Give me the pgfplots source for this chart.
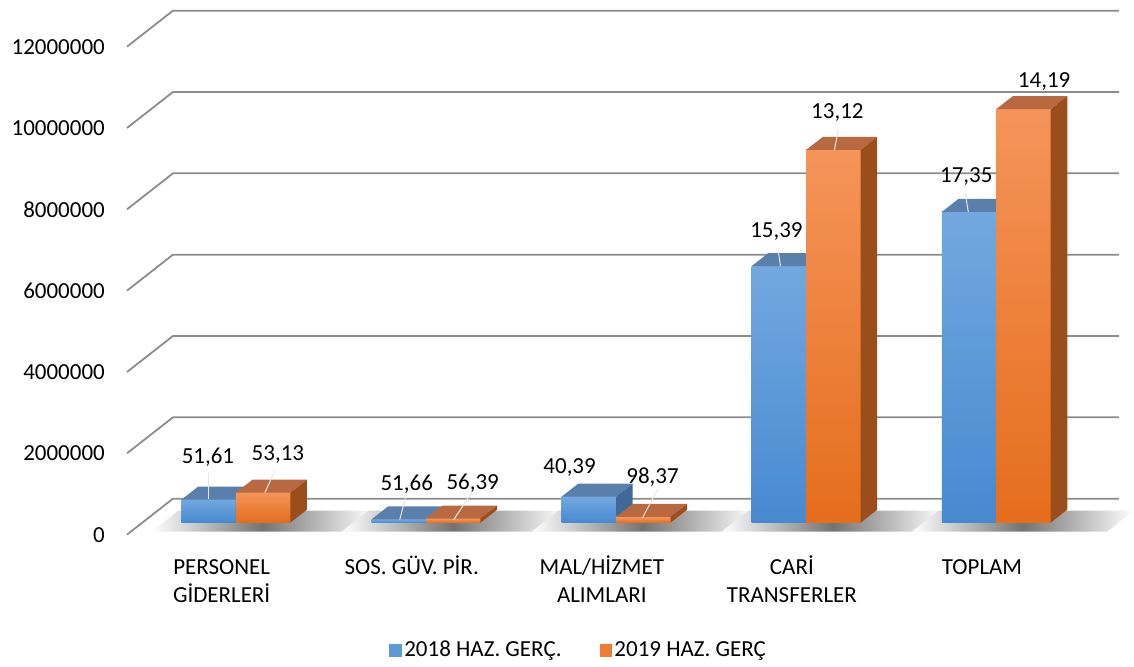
\documentclass[border=0pt]{standalone}
\usepackage{fontspec}
\setmainfont{Carlito}
\usepackage{pgfplots}
\pgfplotsset{compat=1.18}
\definecolor{bFT}{HTML}{72A8DF}
\definecolor{bFB}{HTML}{4789D0}
\definecolor{bTop}{HTML}{5A7FAB}
\definecolor{bSide}{HTML}{3F6A98}
\definecolor{oFT}{HTML}{F5945A}
\definecolor{oFB}{HTML}{E56D1C}
\definecolor{oTop}{HTML}{B9693F}
\definecolor{oSide}{HTML}{9B4E1C}
\definecolor{legB}{HTML}{5B9BD5}
\definecolor{legO}{HTML}{ED7D31}
\definecolor{gridc}{HTML}{8C8C8C}
\definecolor{leadc}{HTML}{E6E6E6}
% 3D bar: #1 left x of front face, #2 value (millions), #3/#4 front gradient, #5 top, #6 side
\newcommand{\bartd}[6]{%
 \pgfmathsetmacro\xa{#1}%
 \pgfmathsetmacro\xb{#1+0.2865}%
 \pgfmathsetmacro\xc{#1+0.0873}%
 \pgfmathsetmacro\xd{#1+0.3738}%
 \pgfmathsetmacro\yb{0.2948+#2}%
 \pgfmathsetmacro\yc{0.6142+#2}%
 \edef\tmp{%
  \noexpand\addplot[draw=none, forget plot, top color=#3, bottom color=#4] coordinates {(\xa,0.2948) (\xb,0.2948) (\xb,\yb) (\xa,\yb)};%
  \noexpand\addplot[draw=none, forget plot, fill=#5] coordinates {(\xa,\yb) (\xb,\yb) (\xd,\yc) (\xc,\yc)};%
  \noexpand\addplot[draw=none, forget plot, fill=#6] coordinates {(\xb,0.2948) (\xb,\yb) (\xd,\yc) (\xd,0.6142)};%
 }\tmp}
% floor shadow under a bar pair
\newcommand{\shadowtd}[1]{%
 \pgfmathsetmacro\sha{#1-0.1577}%
 \pgfmathsetmacro\shb{#1+0.8703}%
 \pgfmathsetmacro\shc{#1+0.8703+0.141}%
 \pgfmathsetmacro\shd{#1-0.1577+0.141}%
 \edef\tmp{%
  \noexpand\addplot[draw=none, forget plot, left color=white, right color=white, middle color=black!55] coordinates {(\sha,0.0737) (\shb,0.0737) (\shc,0.5897) (\shd,0.5897)};%
 }\tmp}
\newcommand{\bigf}{\fontsize{23}{28}\selectfont}
\begin{document}
\bigf
\begin{tikzpicture}
\begin{axis}[
  scale only axis, width=1134pt, height=667pt,
  xmin=-1.2405, xmax=4.7201, ymin=-3.2432, ymax=13.1450,
  clip=false,
  axis line style={draw=none}, major tick length=0pt,
  every tick label/.append style={font=\bigf},
  ytick={0,2,4,6,8,10,12},
  yticklabels={0,2000000,4000000,6000000,8000000,10000000,12000000},
  yticklabel style={anchor=east, inner sep=0pt, xshift=105pt},
  xtick={-0.075,0.925,1.925,2.925,3.925},
  xticklabels={{\strut PERSONEL\\GİDERLERİ},{\strut SOS. GÜV. PİR.},{\strut MAL/HİZMET\\ALIMLARI},{\strut CARİ\\TRANSFERLER},{\strut TOPLAM}},
  xticklabel style={align=center, anchor=north, inner sep=0pt, yshift=112pt},
  legend style={at={(0.5106,0.024)}, anchor=center, draw=none, fill=none, font=\bigf,
    legend columns=2, /tikz/every even column/.append style={column sep=36pt}},
  legend image code/.code={\fill[#1] (0pt,-6.5pt) rectangle (13pt,6.5pt);},
]
% gridlines (front slanted part + back wall)
\pgfplotsinvokeforeach{0,2,4,6,8,10,12}{
  \addplot[gridc, line width=1.8pt, forget plot] coordinates {(-0.5729,#1) (-0.3311,#1+0.8845) (4.6465,#1+0.8845)};
}
% shadows
\shadowtd{-0.2865}
\shadowtd{0.7135}
\shadowtd{1.7135}
\shadowtd{2.7135}
\shadowtd{3.7135}
% bars: 2018 (blue) then 2019 (orange), values in millions
\bartd{-0.2865}{0.565}{bFT}{bFB}{bTop}{bSide}
\bartd{0}{0.737}{oFT}{oFB}{oTop}{oSide}
\bartd{0.7135}{0.08}{bFT}{bFB}{bTop}{bSide}
\bartd{1}{0.10}{oFT}{oFB}{oTop}{oSide}
\bartd{1.7135}{0.639}{bFT}{bFB}{bTop}{bSide}
\bartd{2}{0.14}{oFT}{oFB}{oTop}{oSide}
\bartd{2.7135}{6.31}{bFT}{bFB}{bTop}{bSide}
\bartd{3}{9.165}{oFT}{oFB}{oTop}{oSide}
\bartd{3.7135}{7.64}{bFT}{bFB}{bTop}{bSide}
\bartd{4}{10.17}{oFT}{oFB}{oTop}{oSide}
% leader lines
\addplot[leadc, line width=1pt, forget plot] coordinates {(-0.1419,1.523) (-0.1419,0.885)};
\addplot[leadc, line width=1pt, forget plot] coordinates {(0.205,1.572) (0.1524,1.032)};
\addplot[leadc, line width=1pt, forget plot] coordinates {(0.8988,1.032) (0.862,0.3686)};
\addplot[leadc, line width=1pt, forget plot] coordinates {(1.2405,1.032) (1.1459,0.3686)};
\addplot[leadc, line width=1pt, forget plot] coordinates {(2.2181,1.1057) (2.1393,0.4177)};
\addplot[leadc, line width=1pt, forget plot] coordinates {(2.854,6.953) (2.865,6.609)};
\addplot[leadc, line width=1pt, forget plot] coordinates {(3.1695,9.951) (3.1485,9.459)};
\addplot[leadc, line width=1pt, forget plot] coordinates {(3.837,8.403) (3.853,7.936)};
% data labels
\begin{scope}[every node/.style={font=\bigf, inner sep=0pt, anchor=center}]
\node at (axis cs:-0.147,1.916) {51,61};
\node at (axis cs:0.2208,1.966) {53,13};
\node at (axis cs:0.8988,1.2285) {51,66};
\node at (axis cs:1.2457,1.253) {56,39};
\node at (axis cs:1.7556,1.646) {40,39};
\node at (axis cs:2.1919,1.425) {98,37};
\node at (axis cs:2.8436,7.445) {15,39};
\node at (axis cs:3.1643,10.369) {13,12};
\node at (axis cs:3.8423,8.796) {17,35};
\node at (axis cs:4.2521,11.155) {14,19};
\end{scope}
\addlegendimage{fill=legB, draw=none}
\addlegendentry{2018 HAZ. GERÇ.}
\addlegendimage{fill=legO, draw=none}
\addlegendentry{2019 HAZ. GERÇ}
\end{axis}
\end{tikzpicture}
\end{document}
